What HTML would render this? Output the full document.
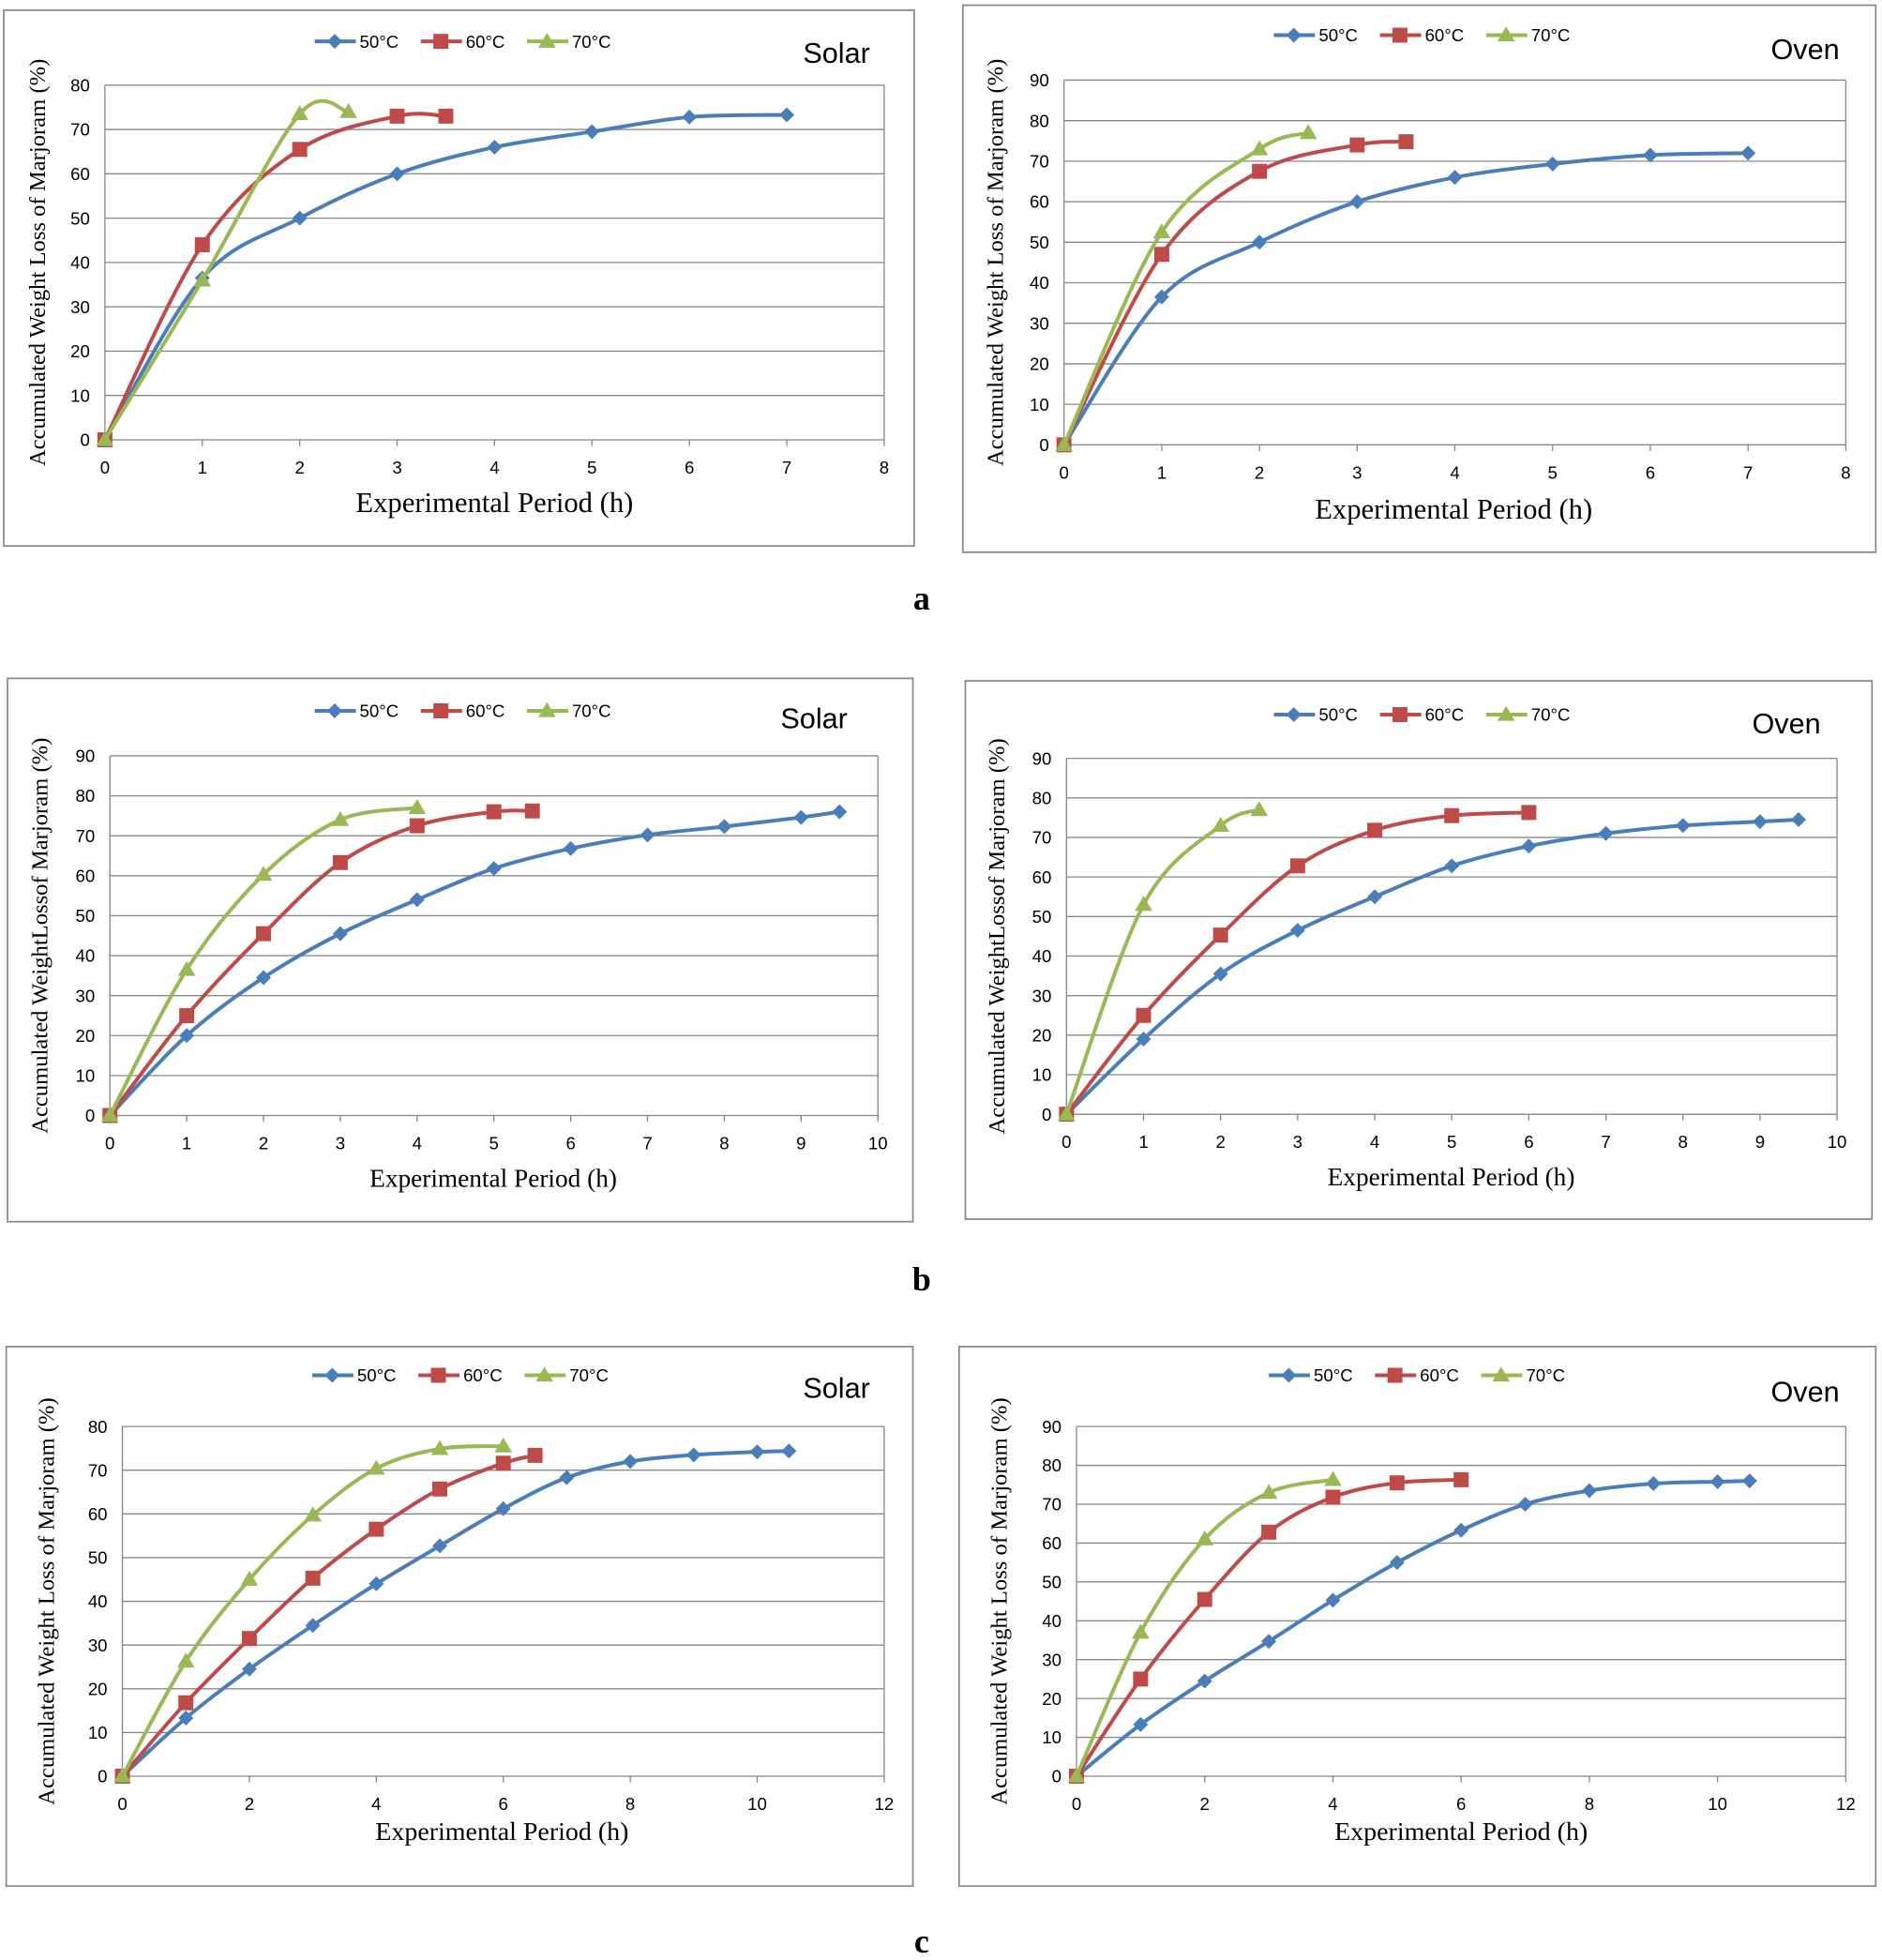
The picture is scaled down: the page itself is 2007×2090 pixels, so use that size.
<!DOCTYPE html>
<html><head><meta charset="utf-8">
<style>
html,body{margin:0;padding:0;background:#fff;width:2007px;height:2090px;overflow:hidden}
svg{display:block}
</style></head>
<body>
<svg id="s" width="2007" height="2090" viewBox="0 0 1507 1569" xmlns="http://www.w3.org/2000/svg"></svg>
<script>
const C={b:'#4A7EBB',r:'#BE4B48',g:'#98B954'};
const panels=[
{f:[3,8,729,429],x0:84,x1:708,xm:8,xs:1,y0:352,y1:68,ym:80,ly:33,lx:252,title:'Solar',tx:643,ty:50,xl:'Experimental  Period (h)',xlx:396,xly:410,xlf:23,
 yl:'Accumulated Weight Loss of Marjoram (%)',ylx:36,
 d:{b:[[0,0],[1,36.5],[2,50],[3,60],[4,66],[5,69.5],[6,72.8],[7,73.3]],r:[[0,0],[1,44],[2,65.5],[3,73],[3.5,73]],g:[[0,0],[1,36],[2,73.5],[2.5,74]]}},
{f:[771,4,731,438],x0:852,x1:1478,xm:8,xs:1,y0:356,y1:64,ym:90,ly:28,lx:1020,title:'Oven',tx:1418,ty:47,xl:'Experimental  Period (h)',xlx:1164,xly:415,xlf:23,
 yl:'Accumulated Weight Loss of Marjoram (%)',ylx:803,
 d:{b:[[0,0],[1,36.5],[2,50],[3,60],[4,66],[5,69.3],[6,71.5],[7,72]],r:[[0,0],[1,47],[2,67.5],[3,74],[3.5,74.8]],g:[[0,0],[1,52.5],[2,73],[2.5,77]]}},
{f:[6,543,725,435],x0:88,x1:703,xm:10,xs:1,y0:893,y1:605,ym:90,ly:569,lx:252,title:'Solar',tx:625,ty:583,xl:'Experimental Period (h)',xlx:395,xly:950,xlf:20.5,
 yl:'Accumulated WeightLossof Marjoram (%)',ylx:38,
 d:{b:[[0,0],[1,20],[2,34.5],[3,45.5],[4,54],[5,61.8],[6,66.8],[7,70.2],[8,72.3],[9,74.6],[9.5,76]],r:[[0,0],[1,25],[2,45.5],[3,63.3],[4,72.5],[5,76],[5.5,76.2]],g:[[0,0],[1,36.5],[2,60.3],[3,74],[4,77]]}},
{f:[773,545,726,431],x0:854,x1:1471,xm:10,xs:1,y0:892,y1:607,ym:90,ly:572,lx:1020,title:'Oven',tx:1403,ty:587,xl:'Experimental Period (h)',xlx:1162,xly:949,xlf:20.5,
 yl:'Accumulated WeightLossof Marjoram (%)',ylx:804,
 d:{b:[[0,0],[1,19],[2,35.5],[3,46.5],[4,55],[5,62.8],[6,67.8],[7,71],[8,73],[9,74],[9.5,74.5]],r:[[0,0],[1,25],[2,45.3],[3,62.8],[4,71.8],[5,75.5],[6,76.3]],g:[[0,0],[1,53],[2,73],[2.5,77]]}},
{f:[5,1078,726,432],x0:98,x1:708,xm:12,xs:2,y0:1422,y1:1142,ym:80,ly:1101,lx:250,title:'Solar',tx:643,ty:1119,xl:'Experimental Period (h)',xlx:402,xly:1473,xlf:21,
 yl:'Accumulated Weight Loss of Marjoram (%)',ylx:43,
 d:{b:[[0,0],[1,13.3],[2,24.5],[3,34.5],[4,44],[5,52.7],[6,61.2],[7,68.3],[8,72],[9,73.5],[10,74.2],[10.5,74.4]],r:[[0,0],[1,16.8],[2,31.5],[3,45.3],[4,56.5],[5,65.7],[6,71.6],[6.5,73.4]],g:[[0,0],[1,26.3],[2,45],[3,59.7],[4,70.4],[5,74.9],[6,75.5]]}},
{f:[768,1078,734,432],x0:862,x1:1478,xm:12,xs:2,y0:1422,y1:1142,ym:90,ly:1101,lx:1016,title:'Oven',tx:1418,ty:1122,xl:'Experimental Period (h)',xlx:1170,xly:1473,xlf:21,
 yl:'Accumulated Weight Loss of Marjoram (%)',ylx:806,
 d:{b:[[0,0],[1,13.3],[2,24.5],[3,34.7],[4,45.3],[5,55],[6,63.3],[7,70],[8,73.5],[9,75.3],[10,75.8],[10.5,76]],r:[[0,0],[1,25],[2,45.5],[3,62.8],[4,71.8],[5,75.5],[6,76.3]],g:[[0,0],[1,37],[2,61],[3,73],[4,76.3]]}}
];
let h='';
function mk(k,x,y){
 if(k=='b')return `<path d="M${x},${y-6}L${x+6},${y}L${x},${y+6}L${x-6},${y}Z" fill="${C.b}"/>`;
 if(k=='r')return `<rect x="${x-6}" y="${y-6}" width="12" height="12" fill="${C.r}"/>`;
 return `<path d="M${x},${y-7}L${x+7},${y+5}L${x-7},${y+5}Z" fill="${C.g}"/>`;
}
for(const p of panels){
 const [fx,fy,fw,fh]=p.f;
 h+=`<rect x="${fx}" y="${fy}" width="${fw}" height="${fh}" fill="#fff" stroke="#888" stroke-width="1.3"/>`;
 const X=v=>p.x0+(p.x1-p.x0)*v/p.xm, Y=v=>p.y0+(p.y1-p.y0)*v/p.ym;
 for(let v=0;v<=p.ym;v+=10){const y=Y(v);
  h+=`<line x1="${p.x0}" x2="${p.x1}" y1="${y}" y2="${y}" stroke="#888" stroke-width="1"/>`;
  h+=`<text x="${p.x0-12}" y="${y+5}" font-size="14" text-anchor="end" font-family="Liberation Sans,sans-serif">${v}</text>`;}
 h+=`<line x1="${p.x1}" x2="${p.x1}" y1="${p.y0}" y2="${p.y1}" stroke="#888"/>`;
 h+=`<line x1="${p.x0}" x2="${p.x0}" y1="${p.y0}" y2="${p.y1}" stroke="#888"/>`;
 for(let v=0;v<=p.xm;v+=p.xs){const x=X(v);
  h+=`<line x1="${x}" x2="${x}" y1="${p.y0}" y2="${p.y0+5}" stroke="#888"/>`;
  h+=`<text x="${x}" y="${p.y0+27}" font-size="14" text-anchor="middle" font-family="Liberation Sans,sans-serif">${v}</text>`;}
 ['b','r','g'].forEach((k,i)=>{const lx=p.lx+i*85;
  h+=`<line x1="${lx}" x2="${lx+33}" y1="${p.ly}" y2="${p.ly}" stroke="${C[k]}" stroke-width="3"/>`+mk(k,lx+16,p.ly);
  h+=`<text x="${lx+36}" y="${p.ly+5}" font-size="14" font-family="Liberation Sans,sans-serif">${['50','60','70'][i]}°C</text>`;});
 h+=`<text x="${p.tx}" y="${p.ty}" font-size="23" font-family="Liberation Sans,sans-serif">${p.title}</text>`;
 h+=`<text x="${p.xlx}" y="${p.xly}" font-size="${p.xlf}" text-anchor="middle" font-family="Liberation Serif,serif">${p.xl}</text>`;
 const yc=(p.y0+p.y1)/2;
 h+=`<text transform="translate(${p.ylx},${yc}) rotate(-90)" font-size="18.5" text-anchor="middle" font-family="Liberation Serif,serif">${p.yl}</text>`;
 for(const k of ['b','r','g']){
  const pts=p.d[k].map(([a,b])=>[X(a),Y(b)]);
  let d=`M${pts[0][0]},${pts[0][1]}`;
  for(let i=0;i<pts.length-1;i++){
   const p0=pts[Math.max(0,i-1)],p1=pts[i],p2=pts[i+1],p3=pts[Math.min(pts.length-1,i+2)];
   const t=6;
   d+=`C${p1[0]+(p2[0]-p0[0])/t},${p1[1]+(p2[1]-p0[1])/t} ${p2[0]-(p3[0]-p1[0])/t},${p2[1]-(p3[1]-p1[1])/t} ${p2[0]},${p2[1]}`;
  }
  h+=`<path d="${d}" fill="none" stroke="${C[k]}" stroke-width="3"/>`;
  for(const q of pts)h+=mk(k,q[0],q[1]);
 }
}
[['a',488],['b',1033],['c',1563]].forEach(([t,y])=>h+=`<text x="738" y="${y}" font-size="27" font-weight="bold" text-anchor="middle" font-family="Liberation Serif,serif">${t}</text>`);
document.getElementById('s').innerHTML=h;
</script>
</body></html>
